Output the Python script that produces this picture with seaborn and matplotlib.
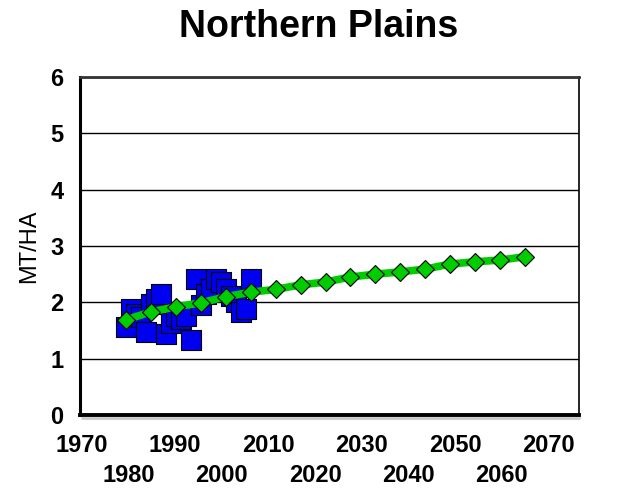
import numpy as np
import pandas as pd
import matplotlib.pyplot as plt
import seaborn as sns

# observed yields (blue squares)
obs_years = [1980, 1981, 1982, 1983, 1984, 1985, 1986, 1987, 1988, 1989,
             1990, 1991, 1992, 1993, 1994, 1995, 1996, 1997, 1998, 1999,
             2000, 2001, 2002, 2003, 2004, 2005]
obs_yield = [1.57, 1.88, 1.80, 1.74, 1.47, 1.97, 2.06, 2.15, 1.44, 1.63,
             1.76, 1.70, 1.76, 1.33, 2.41, 1.95, 2.15, 2.24, 2.42, 2.36,
             2.24, 2.11, 2.00, 1.83, 1.88, 2.42]

# trend / projection (green diamonds)
trend_years = [1980, 1985, 1990, 1995, 2000, 2005, 2010, 2015, 2020,
               2025, 2030, 2035, 2040, 2045, 2050, 2055, 2060]
trend_yield = [1.69, 1.83, 1.92, 1.99, 2.10, 2.18, 2.23, 2.31, 2.36,
               2.45, 2.50, 2.54, 2.59, 2.68, 2.72, 2.75, 2.81]

top_row = ["1970", "1990", "2010", "2030", "2050", "2070"]
bottom_row = ["1980", "2000", "2020", "2040", "2060"]

obs = pd.DataFrame({"year": obs_years, "yield": obs_yield})
trend = pd.DataFrame({"year": trend_years, "yield": trend_yield})

sns.set_theme(style="white")
plt.rcParams["font.family"] = ["Liberation Sans", "DejaVu Sans"]
plt.rcParams["text.color"] = "black"
plt.rcParams["axes.labelcolor"] = "black"
plt.rcParams["xtick.color"] = "black"
plt.rcParams["ytick.color"] = "black"

fig = plt.figure(figsize=(6.18, 4.88), dpi=100)
ax = fig.add_axes([80/618, 73/488, 499/618, 338/488])

sns.scatterplot(data=obs, x="year", y="yield", marker="s", s=190,
                color="#0000F0", edgecolor="black", linewidth=0.8,
                ax=ax, zorder=3)
sns.lineplot(data=trend, x="year", y="yield", color="#00CC00", lw=5.5,
             marker="D", markersize=9.5, markerfacecolor="#00CC00",
             markeredgecolor="black", markeredgewidth=0.8, ax=ax, zorder=4)

ax.set_xlim(1970.8, 2070.8)
ax.set_ylim(0, 6)
ax.set_yticks(range(0, 7))
ax.yaxis.grid(True, color="black", lw=1)
ax.set_axisbelow(True)
ax.tick_params(axis="y", length=0, pad=12, labelsize=17)
for t in ax.get_yticklabels():
    t.set_fontweight("bold")
ax.set_xticks([])
ax.set_xlabel("")
ax.set_ylabel("MT/HA", fontsize=17, labelpad=7)

ax.spines["left"].set_linewidth(2.2)
ax.spines["bottom"].set_linewidth(2.8)
ax.spines["top"].set_linewidth(2)
ax.spines["top"].set_color("#333333")
ax.spines["right"].set_linewidth(1.2)
for s in ax.spines.values():
    s.set_visible(True)
ax.spines["left"].set_color("black")
ax.spines["bottom"].set_color("black")
ax.spines["right"].set_color("black")
ax.plot([0.005, 1.0], [-0.008, -0.008], transform=ax.transAxes,
        color="#c8c8c8", lw=2, clip_on=False, zorder=1)

# category-style labels, two staggered rows
ax2 = ax.twiny()
ax2.set_xlim(1969.6, 2076.6)
ax2.xaxis.set_ticks_position("bottom")
ax2.xaxis.set_label_position("bottom")
ax2.set_xticks([1970, 1990, 2010, 2030, 2050, 2070])
ax2.set_xticklabels(top_row)
ax2.set_xticks([1980, 2000, 2020, 2040, 2060], minor=True)
ax2.set_xticklabels(bottom_row, minor=True)
ax2.tick_params(axis="x", which="major", length=0, pad=14, labelsize=17)
ax2.tick_params(axis="x", which="minor", length=0, pad=35, labelsize=17)
for t in ax2.get_xticklabels() + ax2.get_xticklabels(minor=True):
    t.set_fontweight("bold")
for s in ax2.spines.values():
    s.set_visible(False)

fig.suptitle("Northern Plains", x=0.515, y=0.982, fontsize=27,
             fontweight="bold")

fig.savefig("out.png", dpi=100)
